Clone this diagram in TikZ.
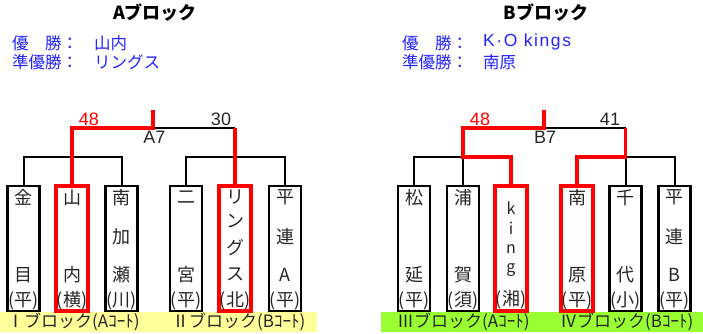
\documentclass[tikz,border=0pt]{standalone}
\usepackage{fontspec}
\setmainfont{Noto Sans CJK JP}
\newfontfamily\latinfont{Liberation Sans}
\newfontfamily\spacedfont{Liberation Sans}[LetterSpace=9]

\definecolor{winred}{RGB}{255,0,0}
\definecolor{infoblue}{RGB}{35,35,255}
\definecolor{bandyellow}{RGB}{255,255,153}
\definecolor{bandgreen}{RGB}{153,255,51}

\begin{document}
\begin{tikzpicture}[
    x=1pt,y=-1pt,
    team/.style={rectangle,draw=black,line width=2.2pt,minimum width=32pt,minimum height=125pt,inner sep=0pt},
    champ/.style={team,draw=winred,line width=3.5pt},
    wire/.style={draw=black,line width=2pt},
    winwire/.style={draw=winred,line width=3.5pt},
    ch/.style={inner sep=0pt,text=black!85,font=\fontsize{18}{18}\selectfont},
    lat/.style={ch,font=\fontsize{16}{16}\selectfont},
    score/.style={inner sep=0pt,text=black!85,font=\latinfont\fontsize{18}{18}\selectfont},
    title/.style={inner sep=0pt,font=\fontsize{18}{18}\selectfont\bfseries},
    info/.style={inner sep=0pt,anchor=west,text=infoblue,font=\fontsize{16.5}{16.5}\selectfont},
    band/.style={inner sep=0pt,anchor=west,text=black!85,font=\fontsize{17}{17}\selectfont},
]
\useasboundingbox (0,0) rectangle (703,334);

%%%
% headings
\node[title] (ta) at (155,13) {Aブロック};
\node[title] (tb) at (546,13) {Bブロック};
\node[info] (wa) at (12,43) {優　勝：};
\node[info] (wan) at (94,43) {山内};
\node[info] (ra) at (12,62) {準優勝：};
\node[info] (ran) at (94,62) {リングス};
\node[info] (wb) at (402,43) {優　勝：};
\node[info,font=\spacedfont\fontsize{17.5}{17.5}\selectfont] (wbn) at (483,42) {K·O kings};
\node[info] (rb) at (402,62) {準優勝：};
\node[info] (rbn) at (483,62) {南原};

%%%
% court bands
\fill[bandyellow] (0,312) rectangle (317,332);
\fill[bandgreen] (381,312) rectangle (703,332);
\node[band] (c1) at (7,322) {Ⅰブロック(Aｺｰﾄ)};
\node[band] (c2) at (172,322) {Ⅱブロック(Bｺｰﾄ)};
\node[band] (c3) at (397,322) {Ⅲブロック(Aｺｰﾄ)};
\node[band] (c4) at (560,322) {Ⅳブロック(Bｺｰﾄ)};

%%%
% teams
\foreach \n/\x/\s/\p/\q/\r/\t in {
    a1/23.5/team/金//目/(平), a2/72/champ/山//内/(横), a3/121.5/team/南/加/瀬/(川),
    a4/186/team/二//宮/(平), a5/235/champ////, a6/285/team/平/連/A/(平),
    b1/414/team/松//延/(平), b2/463/team/浦//賀/(須), b3/511/champ////,
    b4/577/champ/南//原/(平), b5/625.5/team/千//代/(小), b6/674.5/team/平/連/B/(平)} {
    \node[\s] (\n) at (\x,248.5) {};
    \node[ch] (\n-1) at (\x,197.5) {\p};
    \node[ch] (\n-2) at (\x,237) {\q};
    \node[ch] (\n-3) at (\x,275) {\r};
    \node[ch] (\n-4) at (\x,301) {\t};
}
\node[ch] (a5-1) at (235,197.5) {リ};
\node[ch] (a5-2) at (235,221) {ン};
\node[ch] (a5-3) at (235,248) {グ};
\node[ch] (a5-4) at (235,274) {ス};
\node[ch] (a5-5) at (235,301) {(北)};
\node[lat] (b3-1) at (511,208) {k};
\node[lat] (b3-2) at (511,228) {i};
\node[lat] (b3-3) at (511,249) {n};
\node[lat] (b3-4) at (511,270) {g};
\node[ch] (b3-5) at (511,300) {(湘)};

%%%
% bracket A
\coordinate (aL) at (72,157);
\coordinate (aR) at (235,157);
\coordinate (aLT) at (72,128);
\coordinate (aRT) at (235,128);
\coordinate (aTop) at (153,110);
\draw[wire] (a1.north) |- (aL) -| (a3.north);
\draw[wire] (a4.north) |- (aR) -| (a6.north);
\draw[wire] (aLT) -- (aRT);
\draw[winwire] (a2.north) -- (aLT) -| (aTop);
\draw[winwire] (aRT) -- (a5.north);
\node[score,text=winred] (sa1) at (89,119) {48};
\node[score] (sa2) at (221,119) {30};
\node[score] (ga) at (154.5,137.5) {A7};

%%%
% bracket B
\coordinate (bL) at (463,157);
\coordinate (bR) at (625.5,157);
\coordinate (bLT) at (463,128);
\coordinate (bRT) at (625.5,128);
\coordinate (bTop) at (544,110);
\draw[wire] (b1.north) |- (bL) -| (b3.north);
\draw[wire] (b2.north) -- (bL);
\draw[wire] (b4.north) |- (bR) -| (b6.north);
\draw[wire] (b5.north) -- (bR);
\draw[wire] (bLT) -- (bRT);
\draw[winwire] (b3.north) |- (bL) -- (bLT) -| (bTop);
\draw[winwire] (bRT) -- (bR) -| (b4.north);
\node[score,text=winred] (sb1) at (480,119) {48};
\node[score] (sb2) at (610,119) {41};
\node[score] (gb) at (545,137.5) {B7};

\end{tikzpicture}
\end{document}
